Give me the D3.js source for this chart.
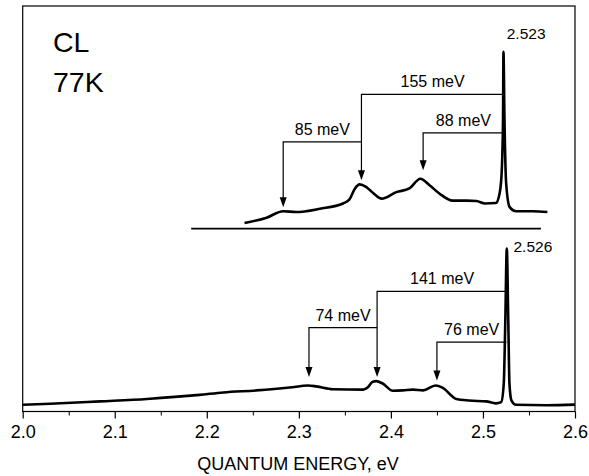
<!DOCTYPE html>
<html>
<head>
<meta charset="utf-8">
<script src="https://cdn.jsdelivr.net/npm/d3@7"></script>
<style>
  body { margin: 0; background: #fff; }
  svg { display: block; }
  text { font-family: "Liberation Sans", Arial, sans-serif; fill: #000; }
</style>
</head>
<body>
<script>
// upper spectrum (shifted up), energies in eV, intensity arb. units above its own baseline
var upperE = [2.241, 2.265, 2.283, 2.297, 2.323, 2.348, 2.355, 2.361, 2.366, 2.373, 2.381, 2.390, 2.406, 2.420, 2.432, 2.442, 2.453, 2.467, 2.482, 2.493, 2.502, 2.514, 2.518, 2.5202, 2.5218, 2.5223, 2.5234, 2.5252, 2.529, 2.536, 2.554, 2.570];
var upperI = [1.4, 2.7, 4.3, 4.1, 4.9, 6.2, 7.2, 9.9, 10.9, 10.3, 8.7, 7.4, 9.0, 9.9, 12.3, 10.7, 8.6, 6.9, 6.9, 6.8, 6.2, 6.3, 8.6, 13.2, 26.7, 43.6, 26.7, 11.2, 5.3, 4.3, 4.3, 4.1];
var upperOffset = 45.1;
var upperBase = [2.183, 2.563];

// lower spectrum
var lowerE = [2.000, 2.030, 2.084, 2.135, 2.192, 2.218, 2.254, 2.290, 2.310, 2.319, 2.337, 2.370, 2.375, 2.380, 2.384, 2.391, 2.402, 2.413, 2.424, 2.435, 2.4485, 2.456, 2.471, 2.485, 2.5035, 2.514, 2.5198, 2.5226, 2.5243, 2.5259, 2.5275, 2.5288, 2.531, 2.536, 2.569, 2.600];
var lowerI = [1.65, 1.9, 2.5, 3.1, 4.1, 4.7, 5.2, 5.9, 6.4, 6.2, 5.5, 5.4, 6.0, 7.3, 7.5, 6.9, 5.1, 5.2, 5.4, 5.2, 6.4, 5.9, 3.1, 2.7, 2.5, 2.0, 2.3, 6.8, 22.5, 40.2, 22.5, 6.8, 2.7, 1.65, 1.55, 1.7];

// peak labels
var peakE = [2.523, 2.526];
var peakLabel = ["2.523", "2.526"];
var peakTop = [43.6 + 45.1, 40.2];

// phonon replica markers: arrow energy, line end energy, line level, tip level, label
var markE = [2.368, 2.283, 2.435, 2.385, 2.311, 2.450];
var markEnd = [2.5225, 2.368, 2.5225, 2.5262, 2.385, 2.5255];
var markLevel = [78.2, 66.5, 68.7, 29.6, 20.7, 17.1];
var markTip = [57.0, 50.4, 59.5, 8.5, 8.5, 7.65];
var markLabel = ["155 meV", "85 meV", "88 meV", "141 meV", "74 meV", "76 meV"];

var xTicks = [2.0, 2.1, 2.2, 2.3, 2.4, 2.5, 2.6];
var xMinor = [2.05, 2.15, 2.25, 2.35, 2.45, 2.55];

var w = 589, h = 476;
var pLeft = 22.7, pRight = 575, pTop = 6, pBottom = 411.5;

var svg = d3.select("body").append("svg")
  .attr("width", w).attr("height", h);

var x = d3.scaleLinear().domain([2.0, 2.6]).range([pLeft, pRight]);
var y = d3.scaleLinear().domain([0, 100]).range([pBottom, pTop]);

// frame
svg.append("rect")
  .attr("x", pLeft).attr("y", pTop)
  .attr("width", pRight - pLeft).attr("height", pBottom - pTop)
  .attr("fill", "none").attr("stroke", "#000").attr("stroke-width", 1.2);

// axis
var axis = svg.append("g").attr("transform", "translate(0," + pBottom + ")")
  .call(d3.axisBottom(x).tickValues(xTicks).tickSize(7).tickPadding(7)
    .tickFormat(d3.format(".1f")));
axis.select(".domain").remove();
axis.selectAll("line").attr("stroke-width", 1.2);
axis.selectAll("text").attr("font-size", "18px")
  .style("font-family", "Liberation Sans, Arial, sans-serif");

var minor = svg.append("g").attr("transform", "translate(0," + pBottom + ")")
  .call(d3.axisBottom(x).tickValues(xMinor).tickSize(4).tickFormat(""));
minor.select(".domain").remove();

svg.append("text")
  .attr("x", 298).attr("y", 470)
  .attr("text-anchor", "middle").attr("font-size", "18px")
  .text("QUANTUM ENERGY, eV");

svg.append("text").attr("x", 53).attr("y", 52)
  .attr("font-size", "28.5px").text("CL");
svg.append("text").attr("x", 53).attr("y", 92)
  .attr("font-size", "28.5px").text("77K");

// spectra
var line = d3.line()
  .x(function(d) { return x(d[0]); })
  .y(function(d) { return y(d[1]); })
  .curve(d3.curveMonotoneX);

var upperData = upperE.map(function(e, i) { return [e, upperI[i] + upperOffset]; });
var lowerData = lowerE.map(function(e, i) { return [e, lowerI[i]]; });

svg.append("line")
  .attr("x1", x(upperBase[0])).attr("x2", x(upperBase[1]))
  .attr("y1", y(upperOffset)).attr("y2", y(upperOffset))
  .attr("stroke", "#000").attr("stroke-width", 1.6);

svg.append("path").datum(upperData)
  .attr("d", line).attr("fill", "none")
  .attr("stroke", "#000").attr("stroke-width", 2.6)
  .attr("stroke-linejoin", "round");

svg.append("path").datum(lowerData)
  .attr("d", line).attr("fill", "none")
  .attr("stroke", "#000").attr("stroke-width", 2.6)
  .attr("stroke-linejoin", "round");

// peak labels
peakE.forEach(function(e, i) {
  svg.append("text")
    .attr("x", x(e) + (i == 0 ? 22 : 26)).attr("y", y(peakTop[i]) - (i == 0 ? 13 : -4))
    .attr("text-anchor", "middle").attr("font-size", "15.5px")
    .text(peakLabel[i]);
});

// markers
markE.forEach(function(e, i) {
  var xa = x(e), xb = x(markEnd[i]);
  var ly = y(markLevel[i]), ty = y(markTip[i]);
  svg.append("path")
    .attr("d", "M" + xb + "," + ly + "H" + xa + "V" + (ty - 8))
    .attr("fill", "none").attr("stroke", "#000").attr("stroke-width", 1.2);
  svg.append("path")
    .attr("d", "M" + (xa - 3.5) + "," + (ty - 10) + "L" + (xa + 3.5) + "," + (ty - 10) + "L" + xa + "," + ty + "Z")
    .attr("fill", "#000");
  svg.append("text")
    .attr("x", (xa + xb) / 2).attr("y", ly - 7)
    .attr("text-anchor", "middle").attr("font-size", "16px")
    .text(markLabel[i]);
});
</script>
</body>
</html>
